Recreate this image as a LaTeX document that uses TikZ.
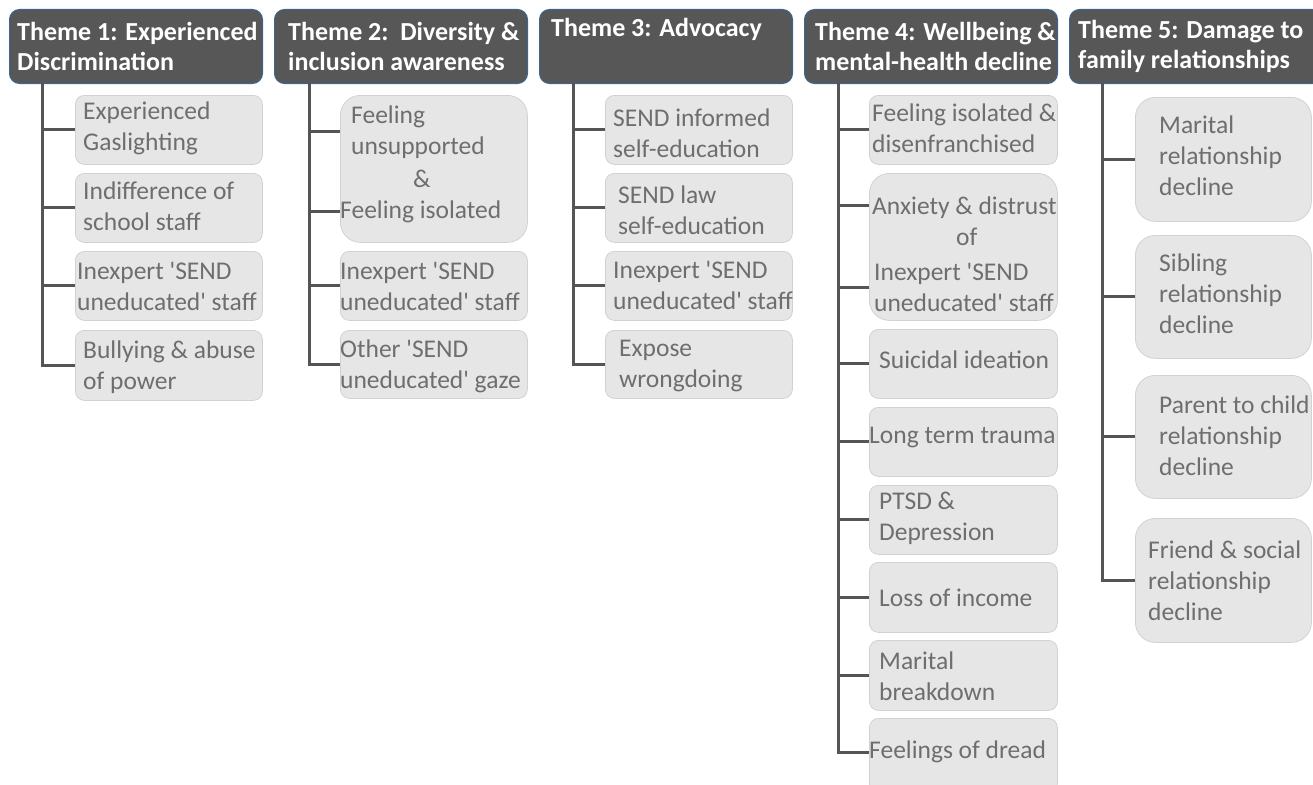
\documentclass[tikz,border=0pt]{standalone}
\usepackage{fontspec}
\setmainfont{Carlito}
\usetikzlibrary{calc}
\definecolor{hdrfill}{HTML}{575757}
\definecolor{hdredge}{HTML}{3D6591}
\definecolor{subfill}{HTML}{E6E6E6}
\definecolor{subedge}{HTML}{D2D2D2}
\definecolor{subtext}{HTML}{6E6E6E}
\definecolor{linec}{HTML}{555555}
\newcommand\mkbox[6]{\node[subbox, rounded corners=#6, minimum width={#4-#2}, minimum height={#5-#3}] (#1) at (#2,#3) {};}
\newcommand\sq{\textquotesingle}
\begin{document}
\begin{tikzpicture}[x=1pt,y=-1pt,
  hdr/.style={draw=hdredge, line width=1pt, fill=hdrfill, rounded corners=10pt, anchor=north west, inner sep=0pt, minimum width=253pt, minimum height=74pt},
  hdrtxt/.style={anchor=west, align=left, inner sep=0pt, text=white, font=\bfseries\fontsize{26}{30}\selectfont},
  subbox/.style={draw=subedge, line width=0.8pt, fill=subfill, anchor=north west, inner sep=0pt},
  subtxt/.style={anchor=west, align=left, inner sep=0pt, text=subtext, font=\fontsize{25.5}{31}\selectfont},
  trunk/.style={draw=linec, line width=3pt}]
\useasboundingbox (0,0) rectangle (1313,784);
\clip (0,0) rectangle (1313,784);
% headers
\node[hdr] (h1) at (9,9) {};
\node[hdr] (h2) at (274,9) {};
\node[hdr] (h3) at (539,9) {};
\node[hdr] (h4) at (804,9) {};
\node[hdr] (h5) at (1069,9) {};
\node[hdrtxt] (h1t) at (17,46) {Theme 1: Experienced\\Discrimination};
\node[hdrtxt] (h2t) at (288,46) {Theme 2:\ \ Diversity \&\\inclusion awareness};
\node[hdrtxt] (h3t) at (551,29) {Theme 3: Advocacy};
\node[hdrtxt] (h4t) at (815,46) {Theme 4: Wellbeing \&\\mental-health decline};
\node[hdrtxt] (h5t) at (1078,46) {Theme 5: Damage to\\family relationships};
% column 1
\mkbox{b11}{75}{95}{262}{164}{9pt}
\mkbox{b12}{75}{173}{262}{242}{9pt}
\mkbox{b13}{75}{251}{262}{320}{9pt}
\mkbox{b14}{75}{330}{262}{400}{9pt}
\node[subtxt] (b11t) at (83,128) {Experienced\\Gaslighting};
\node[subtxt] (b12t) at (83,206) {Indifference of\\school staff};
\node[subtxt] (b13t) at (77,286) {Inexpert \sq SEND\\uneducated\sq\ staff};
\node[subtxt] (b14t) at (83,367) {Bullying \& abuse\\of power};
% column 2
\mkbox{b21}{340}{95}{527}{242}{20pt}
\mkbox{b22}{340}{251}{527}{320}{9pt}
\mkbox{b23}{340}{330}{527}{398}{9pt}
\node[subtxt] (b21t) at (340,164) {\hspace*{11pt}Feeling\\\hspace*{11pt}unsupported\\[2pt]\hspace*{73pt}\&\\Feeling isolated};
\node[subtxt] (b22t) at (340,286) {Inexpert \sq SEND\\uneducated\sq\ staff};
\node[subtxt] (b23t) at (340,366) {Other \sq SEND\\uneducated\sq\ gaze};
% column 3
\mkbox{b31}{605}{95}{792}{164}{9pt}
\mkbox{b32}{605}{173}{792}{242}{9pt}
\mkbox{b33}{605}{251}{792}{320}{9pt}
\mkbox{b34}{605}{330}{792}{398}{9pt}
\node[subtxt] (b31t) at (613,133) {SEND informed\\self-education};
\node[subtxt] (b32t) at (618,210) {SEND law\\self-education};
\node[subtxt] (b33t) at (613,285) {Inexpert \sq SEND\\uneducated\sq\ staff};
\node[subtxt] (b34t) at (619,366) {Expose\\wrongdoing};
% column 4
\mkbox{b41}{869}{95}{1057}{164}{9pt}
\mkbox{b42}{869}{173}{1057}{320}{20pt}
\mkbox{b43}{869}{329}{1057}{398}{9pt}
\mkbox{b44}{869}{407}{1057}{476}{9pt}
\mkbox{b45}{869}{485}{1057}{554}{9pt}
\mkbox{b46}{869}{562}{1057}{632}{9pt}
\mkbox{b47}{869}{640}{1057}{710}{9pt}
\mkbox{b48}{869}{718}{1057}{792}{9pt}
\node[subtxt] (b41t) at (872,128) {Feeling isolated \&\\disenfranchised};
\node[subtxt] (b42t) at (872,254) {Anxiety \& distrust\\\hspace*{84pt}of\\[4pt]\hspace*{2pt}Inexpert \sq SEND\\\hspace*{2pt}uneducated\sq\ staff};
\node[subtxt] (b43t) at (879,360) {Suicidal ideation};
\node[subtxt] (b44t) at (869,438) {Long term trauma};
\node[subtxt] (b45t) at (879,518) {PTSD \&\\Depression};
\node[subtxt] (b46t) at (879,598) {Loss of income};
\node[subtxt] (b47t) at (879,676) {Marital\\breakdown};
\node[subtxt] (b48t) at (869,752) {Feelings of dread};
% column 5
\mkbox{b51}{1135}{97}{1311}{221}{20pt}
\mkbox{b52}{1135}{235}{1311}{358}{20pt}
\mkbox{b53}{1135}{375}{1311}{498}{20pt}
\mkbox{b54}{1135}{518}{1311}{642}{20pt}
\node[subtxt] (b51t) at (1159,156) {Marital\\relationship\\decline};
\node[subtxt] (b52t) at (1159,294) {Sibling\\relationship\\decline};
\node[subtxt] (b53t) at (1159,436) {Parent to child\\relationship\\decline};
\node[subtxt] (b54t) at (1148,581) {Friend \& social\\relationship\\decline};
% trunks and branches
\coordinate (t1) at (42,83);
\coordinate (t2) at (309,83);
\coordinate (t3) at (573,83);
\coordinate (t4) at (838,83);
\coordinate (t5) at (1102,83);
\draw[trunk] (t1) |- (b14.west);
\foreach \b in {b11,b12,b13} \draw[trunk] (t1 |- \b.west) -- (\b.west);
\draw[trunk] (t2) |- (b23.west);
\coordinate (b21a) at ($(b21.north west)!0.245!(b21.south west)$);
\coordinate (b21b) at ($(b21.north west)!0.79!(b21.south west)$);
\foreach \b in {b21a,b21b,b22.west} \draw[trunk] (t2 |- \b) -- (\b);
\draw[trunk] (t3) |- (b34.west);
\foreach \b in {b31,b32,b33} \draw[trunk] (t3 |- \b.west) -- (\b.west);
\draw[trunk] (t4) |- (b48t.west);
\coordinate (b42a) at ($(b42.north west)!0.218!(b42.south west)$);
\coordinate (b42b) at ($(b42.north west)!0.776!(b42.south west)$);
\foreach \b in {b41.west,b42a,b42b,b43.west,b44.west,b45.west,b46.west,b47.west} \draw[trunk] (t4 |- \b) -- (\b);
\draw[trunk] (t5) |- (b54.west);
\foreach \b in {b51,b52,b53} \draw[trunk] (t5 |- \b.west) -- (\b.west);
\end{tikzpicture}
\end{document}
